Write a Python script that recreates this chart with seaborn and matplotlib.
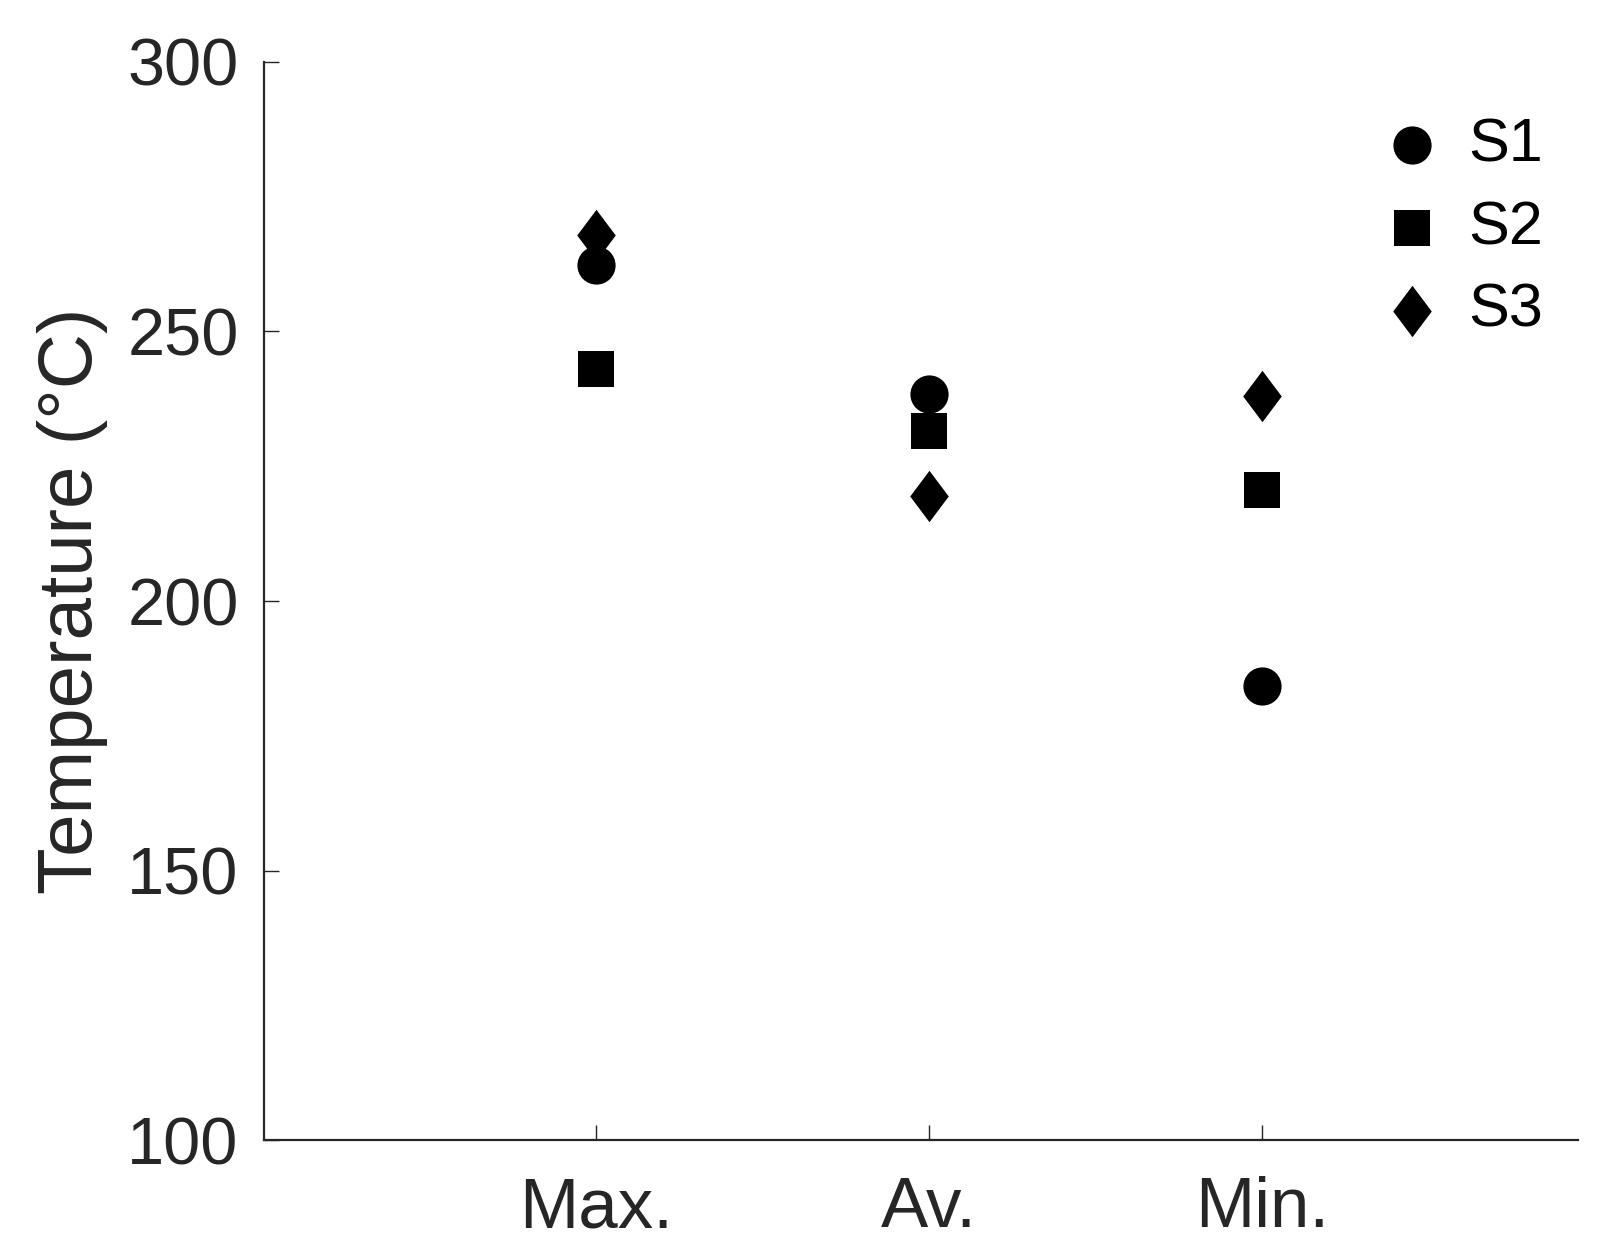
import numpy as np
import pandas as pd
import matplotlib
matplotlib.use('Agg')
import matplotlib.pyplot as plt
from matplotlib.path import Path
import seaborn as sns

# DATA
categories = ['Max.', 'Av.', 'Min.']
series = ['S1', 'S2', 'S3']
s1_vals = [262.4, 238.4, 184.3]
s2_vals = [243.0, 231.5, 220.5]
s3_vals = [267.8, 219.5, 238.1]
yticks = [100, 150, 200, 250, 300]

df = pd.DataFrame({
    'cat': categories * 3,
    'series': [s for s in series for _ in categories],
    'temp': s1_vals + s2_vals + s3_vals,
})

sns.set_theme(style='ticks')
plt.rcParams['font.family'] = ['Liberation Sans', 'DejaVu Sans']
dark = '#262626'

# diamond a bit wider than matplotlib's thin diamond
diamond = Path([(0, 1), (0.75, 0), (0, -1), (-0.75, 0), (0, 1)],
               [Path.MOVETO, Path.LINETO, Path.LINETO, Path.LINETO, Path.CLOSEPOLY])
marker_map = {'S1': 'o', 'S2': 's', 'S3': diamond}
size_map = {'S1': 27.5, 'S2': 26, 'S3': 37}

fig = plt.figure(figsize=(16.07, 12.6), dpi=100)
ax = fig.add_axes([0.164, 0.095, 0.818, 0.856])

df['x'] = df['cat'].map({c: i for i, c in enumerate(categories)})
for s in series:
    sub = df[df['series'] == s]
    sns.scatterplot(data=sub, x='x', y='temp', ax=ax, marker=marker_map[s],
                    s=size_map[s] ** 2, color='black', linewidth=0, label=s)

ax.set_xlim(-1, 2.95)
ax.set_ylim(100, 300)
ax.set_xticks(range(len(categories)))
ax.set_xticklabels(categories)
ax.set_yticks(yticks)
ax.set_xlabel('')
ax.set_ylabel('Temperature (°C)', fontsize=55, color=dark, labelpad=14)

for side in ['top', 'right']:
    ax.spines[side].set_visible(False)
for side in ['left', 'bottom']:
    ax.spines[side].set_linewidth(1.6)
    ax.spines[side].set_color(dark)

ax.tick_params(axis='y', direction='in', length=11, width=1.0, color=dark,
               labelsize=48, labelcolor=dark, pad=18)
ax.tick_params(axis='x', direction='in', length=11, width=1.0, color=dark,
               labelsize=51, labelcolor=dark, pad=26)

leg = ax.legend(loc='upper right', bbox_to_anchor=(1.006, 0.988), frameon=False,
                fontsize=44, handletextpad=0.42, labelspacing=0.42,
                borderaxespad=0.3, handlelength=1.0)
for h in leg.legend_handles:
    h.set_color('black')
for t in leg.get_texts():
    t.set_color('black')

fig.savefig('out.png', dpi=100)
